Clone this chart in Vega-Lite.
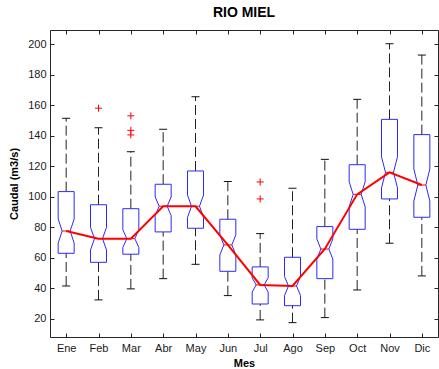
{
  "$schema": "https://vega.github.io/schema/vega-lite/v6.json",
  "width": 388,
  "height": 307,
  "autosize": {"type": "none"},
  "padding": {"left": 50, "top": 30, "right": 1, "bottom": 32},
  "background": "white",
  "title": {"text": "RIO MIEL", "fontSize": 14, "fontWeight": "bold", "font": "Liberation Sans", "color": "#000000", "offset": 10},
  "config": {
    "view": {"stroke": "#262626", "strokeWidth": 1},
    "axis": {"labelFont": "Liberation Sans", "labelFontSize": 11, "labelColor": "#1a1a1a", "titleFont": "Liberation Sans", "titleFontSize": 11, "titleFontWeight": "bold", "titleColor": "#000000", "tickColor": "#262626", "domain": false, "grid": false, "tickSize": -4}
  },
  "datasets": {
    "stats": [
      {"m": 1, "mes": "Ene", "wlo": 41.6, "q1": 63, "nlo": 69.7, "med": 77.6, "nhi": 85.5, "q3": 103.4, "whi": 151.4},
      {"m": 2, "mes": "Feb", "wlo": 32.5, "q1": 57.1, "nlo": 65.2, "med": 72.6, "nhi": 80.0, "q3": 94.8, "whi": 145.2},
      {"m": 3, "mes": "Mar", "wlo": 39.7, "q1": 62.4, "nlo": 66.8, "med": 72.6, "nhi": 78.4, "q3": 92.2, "whi": 129.5},
      {"m": 4, "mes": "Abr", "wlo": 46.4, "q1": 77, "nlo": 87.7, "med": 93.8, "nhi": 99.9, "q3": 108.2, "whi": 144.2},
      {"m": 5, "mes": "May", "wlo": 55.8, "q1": 79.4, "nlo": 86.5, "med": 93.8, "nhi": 101.1, "q3": 116.9, "whi": 165.5},
      {"m": 6, "mes": "Jun", "wlo": 35.3, "q1": 51.2, "nlo": 61.9, "med": 68.5, "nhi": 75.1, "q3": 85.3, "whi": 110},
      {"m": 7, "mes": "Jul", "wlo": 19.4, "q1": 29.8, "nlo": 37.6, "med": 42.3, "nhi": 47.0, "q3": 54.1, "whi": 75.9},
      {"m": 8, "mes": "Ago", "wlo": 17.6, "q1": 28.7, "nlo": 35.4, "med": 41.6, "nhi": 47.8, "q3": 60.4, "whi": 105.6},
      {"m": 9, "mes": "Sep", "wlo": 20.9, "q1": 46.4, "nlo": 59.2, "med": 65.8, "nhi": 72.4, "q3": 80.5, "whi": 124.5},
      {"m": 10, "mes": "Oct", "wlo": 39, "q1": 78.7, "nlo": 93.4, "med": 101.6, "nhi": 109.8, "q3": 121, "whi": 163.8},
      {"m": 11, "mes": "Nov", "wlo": 69.6, "q1": 98.6, "nlo": 105.8, "med": 116, "nhi": 126.2, "q3": 150.7, "whi": 200.2},
      {"m": 12, "mes": "Dic", "wlo": 48.2, "q1": 86.6, "nlo": 97.2, "med": 107.7, "nhi": 118.2, "q3": 140.7, "whi": 192.8}
    ],
    "outliers": [
      {"m": 2, "v": 158},
      {"m": 3, "v": 153},
      {"m": 3, "v": 143.5},
      {"m": 3, "v": 140.5},
      {"m": 7, "v": 109.7},
      {"m": 7, "v": 98.6}
    ]
  },
  "data": {"name": "stats"},
  "encoding": {
    "x": {"field": "m", "type": "quantitative", "scale": {"domain": [0.5, 12.5], "nice": false, "zero": false}, "axis": null}
  },
  "resolve": {"axis": {"x": "independent", "y": "independent"}},
  "layer": [
    {
      "mark": {"type": "rule", "color": "#222222", "strokeWidth": 1, "strokeDash": [10, 4]},
      "encoding": {
        "x": {"field": "m", "type": "quantitative", "scale": {"domain": [0.5, 12.5], "nice": false, "zero": false},
              "axis": {"values": [1,2,3,4,5,6,7,8,9,10,11,12], "labelExpr": "['Ene','Feb','Mar','Abr','May','Jun','Jul','Ago','Sep','Oct','Nov','Dic'][datum.value-1]", "title": "Mes", "labelPadding": 9, "titlePadding": 4, "orient": "bottom"}},
        "y": {"field": "q3", "type": "quantitative", "scale": {"domain": [8.2, 209.2], "nice": false, "zero": false},
              "axis": {"values": [20,40,60,80,100,120,140,160,180,200], "title": "Caudal (m3/s)", "labelPadding": 8, "titlePadding": 8, "orient": "left"}},
        "y2": {"field": "whi"}
      }
    },
    {
      "mark": {"type": "rule", "color": "#222222", "strokeWidth": 1, "strokeDash": [10, 4]},
      "encoding": {
        "y": {"field": "wlo", "type": "quantitative", "axis": null},
        "y2": {"field": "q1"}
      }
    },
    {
      "mark": {"type": "rule", "color": "#111111", "strokeWidth": 1, "xOffset": -4, "x2Offset": 4},
      "encoding": {"x2": {"field": "m"}, "y": {"field": "whi", "type": "quantitative", "axis": null}}
    },
    {
      "mark": {"type": "rule", "color": "#111111", "strokeWidth": 1, "xOffset": -4, "x2Offset": 4},
      "encoding": {"x2": {"field": "m"}, "y": {"field": "wlo", "type": "quantitative", "axis": null}}
    },
    {
      "mark": {"type": "rule", "color": "#2a2aff", "strokeWidth": 1, "xOffset": -8, "x2Offset": 8},
      "encoding": {"x2": {"field": "m"}, "y": {"field": "q3", "type": "quantitative", "axis": null}}
    },
    {
      "mark": {"type": "rule", "color": "#2a2aff", "strokeWidth": 1, "xOffset": -8, "x2Offset": 8},
      "encoding": {"x2": {"field": "m"}, "y": {"field": "q1", "type": "quantitative", "axis": null}}
    },
    {
      "mark": {"type": "rule", "color": "#2a2aff", "strokeWidth": 1, "xOffset": -8},
      "encoding": {"y": {"field": "q3", "type": "quantitative", "axis": null}, "y2": {"field": "nhi"}}
    },
    {
      "mark": {"type": "rule", "color": "#2a2aff", "strokeWidth": 1, "xOffset": 8},
      "encoding": {"y": {"field": "q3", "type": "quantitative", "axis": null}, "y2": {"field": "nhi"}}
    },
    {
      "mark": {"type": "rule", "color": "#2a2aff", "strokeWidth": 1, "xOffset": -8},
      "encoding": {"y": {"field": "nlo", "type": "quantitative", "axis": null}, "y2": {"field": "q1"}}
    },
    {
      "mark": {"type": "rule", "color": "#2a2aff", "strokeWidth": 1, "xOffset": 8},
      "encoding": {"y": {"field": "nlo", "type": "quantitative", "axis": null}, "y2": {"field": "q1"}}
    },
    {
      "mark": {"type": "rule", "color": "#2a2aff", "strokeWidth": 1, "xOffset": -8, "x2Offset": -4},
      "encoding": {"x2": {"field": "m"}, "y": {"field": "nhi", "type": "quantitative", "axis": null}, "y2": {"field": "med"}}
    },
    {
      "mark": {"type": "rule", "color": "#2a2aff", "strokeWidth": 1, "xOffset": 8, "x2Offset": 4},
      "encoding": {"x2": {"field": "m"}, "y": {"field": "nhi", "type": "quantitative", "axis": null}, "y2": {"field": "med"}}
    },
    {
      "mark": {"type": "rule", "color": "#2a2aff", "strokeWidth": 1, "xOffset": -4, "x2Offset": -8},
      "encoding": {"x2": {"field": "m"}, "y": {"field": "med", "type": "quantitative", "axis": null}, "y2": {"field": "nlo"}}
    },
    {
      "mark": {"type": "rule", "color": "#2a2aff", "strokeWidth": 1, "xOffset": 4, "x2Offset": 8},
      "encoding": {"x2": {"field": "m"}, "y": {"field": "med", "type": "quantitative", "axis": null}, "y2": {"field": "nlo"}}
    },
    {
      "mark": {"type": "rule", "color": "#ff0000", "strokeWidth": 1, "xOffset": -4, "x2Offset": 4},
      "encoding": {"x2": {"field": "m"}, "y": {"field": "med", "type": "quantitative", "axis": null}}
    },
    {
      "mark": {"type": "line", "color": "#ff0000", "strokeWidth": 2},
      "encoding": {
        "x": {"field": "m", "type": "quantitative", "scale": {"domain": [0.5, 12.5], "nice": false, "zero": false},
              "axis": {"values": [1,2,3,4,5,6,7,8,9,10,11,12], "labels": false, "title": null, "orient": "top"}},
        "y": {"field": "med", "type": "quantitative",
              "axis": {"values": [20,40,60,80,100,120,140,160,180,200], "labels": false, "title": null, "orient": "right"}}
      }
    },
    {
      "data": {"name": "outliers"},
      "mark": {"type": "point", "shape": "M-1,0L1,0M0,-1L0,1", "size": 49, "filled": false, "stroke": "#ff0000", "strokeWidth": 1, "opacity": 1},
      "encoding": {"y": {"field": "v", "type": "quantitative", "axis": null}}
    }
  ]
}
